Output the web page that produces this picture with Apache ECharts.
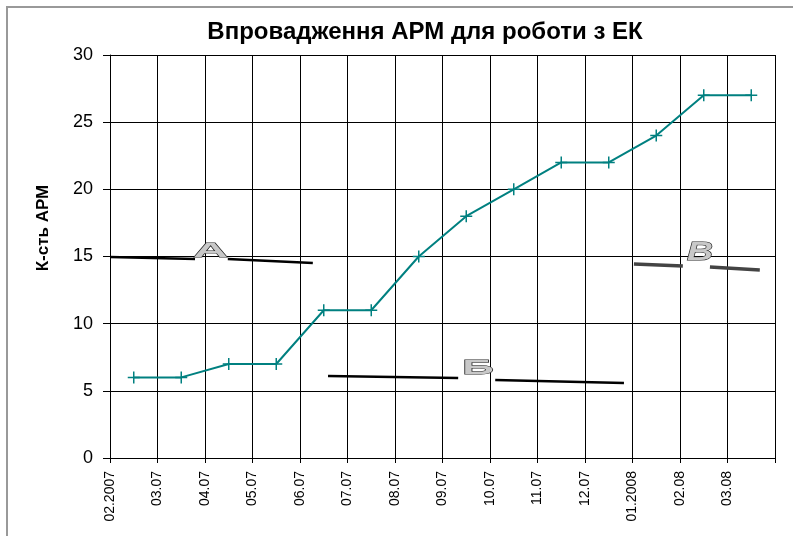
<!DOCTYPE html>
<html>
<head>
<meta charset="utf-8">
<script src="https://cdn.jsdelivr.net/npm/echarts@6/dist/echarts.min.js"></script>
<style>
  html, body { margin: 0; padding: 0; background: #fff; }
  #chart { width: 793px; height: 536px; }
</style>
</head>
<body>
<div id="chart"></div>
<script>
var months = ['02.2007', '03.07', '04.07', '05.07', '06.07', '07.07', '08.07',
  '09.07', '10.07', '11.07', '12.07', '01.2008', '02.08', '03.08']
var armCount = [6, 6, 7, 7, 11, 11, 15, 18, 20, 22, 22, 24, 27, 27]

// hand-drawn marks over the plot (axis units)
var markA1 = [[0, 14.97], [1.79, 14.82]]
var markA2 = [[2.48, 14.82], [4.27, 14.52]]
var markB1 = [[4.59, 6.1], [7.33, 5.96]]
var markB2 = [[8.11, 5.81], [10.82, 5.58]]
var markV1 = [[11.03, 14.45], [12.06, 14.3]]
var markV2 = [[12.63, 14.22], [13.68, 14.0]]
var letters = [[2.12, 15.37, 'А'], [7.75, 6.66, 'Б'], [12.42, 15.3, 'В']]
// stretch of each letter, like the WordArt in the original
var letterScale = [[2.4, 1.0], [2.2, 1.05], [1.8, 1.3]]

var chart = echarts.init(document.getElementById('chart'))

var plus = 'path://M0,5 L10,5 M5,0 L5,10'
var font = 'Liberation Sans, Arial, sans-serif'

function markLine(data, color, width) {
  return {
    type: 'line',
    data: data,
    symbol: 'none',
    silent: true,
    lineStyle: { color: color, width: width },
    z: 3
  }
}

var option = {
  animation: false,
  textStyle: { fontFamily: font },
  title: {
    text: 'Впровадження АРМ для роботи з ЕК',
    left: 420,
    textAlign: 'center',
    top: 15,
    textStyle: { fontSize: 24, fontWeight: 'bold', color: '#000' }
  },
  grid: { left: 110, top: 55, right: 18, bottom: 78 },
  xAxis: {
    type: 'value',
    min: 0,
    max: 14,
    interval: 1,
    axisLine: { show: true, onZero: false, lineStyle: { color: '#000' } },
    axisTick: { show: true, length: 5, lineStyle: { color: '#000' } },
    splitLine: { show: true, lineStyle: { color: '#000', width: 1 } },
    axisLabel: {
      rotate: 90,
      margin: 13,
      fontSize: 14,
      color: '#000',
      formatter: function (v) { return months[v] || '' }
    }
  },
  yAxis: {
    type: 'value',
    min: 0,
    max: 30,
    interval: 5,
    axisLine: { show: true, lineStyle: { color: '#000' } },
    axisTick: { show: true, length: 7, lineStyle: { color: '#000' } },
    splitLine: { show: true, lineStyle: { color: '#000', width: 1 } },
    axisLabel: { fontSize: 18, color: '#000', margin: 17 }
  },
  series: [
    {
      type: 'line',
      data: armCount.map(function (v, i) { return [i + 0.5, v] }),
      symbol: plus,
      symbolSize: 12,
      showSymbol: true,
      itemStyle: { color: '#008080', borderColor: '#008080', borderWidth: 1.5 },
      lineStyle: { color: '#008080', width: 2 },
      z: 4
    },
    markLine(markA1, '#000', 2.5),
    markLine(markA2, '#000', 2.5),
    markLine(markB1, '#000', 2.5),
    markLine(markB2, '#000', 2.5),
    markLine(markV1, '#444', 3.5),
    markLine(markV2, '#444', 3.5)
  ]
}

chart.setOption(option)

var graphics = [
  {
    type: 'rect',
    shape: { x: 7, y: 7, width: 800, height: 540 },
    style: { fill: 'none', stroke: '#999', lineWidth: 2 },
    silent: true
  },
  {
    type: 'text',
    x: 43,
    y: 228,
    rotation: Math.PI / 2,
    style: {
      text: 'К-сть АРМ',
      fill: '#000',
      font: 'bold 17px ' + font,
      align: 'center',
      verticalAlign: 'middle'
    }
  }
]
letters.forEach(function (l, i) {
  var p = chart.convertToPixel({ gridIndex: 0 }, [l[0], l[1]])
  graphics.push({
    type: 'text',
    x: p[0],
    y: p[1],
    scaleX: letterScale[i][0],
    scaleY: letterScale[i][1],
    z: 10,
    style: {
      text: l[2],
      font: (i === 2 ? 'italic ' : '') + 'bold 20px ' + font,
      fill: '#c8c8c8',
      stroke: '#222',
      lineWidth: 0.8,
      align: 'center',
      verticalAlign: 'middle'
    }
  })
})
chart.setOption({ graphic: graphics })
</script>
</body>
</html>
